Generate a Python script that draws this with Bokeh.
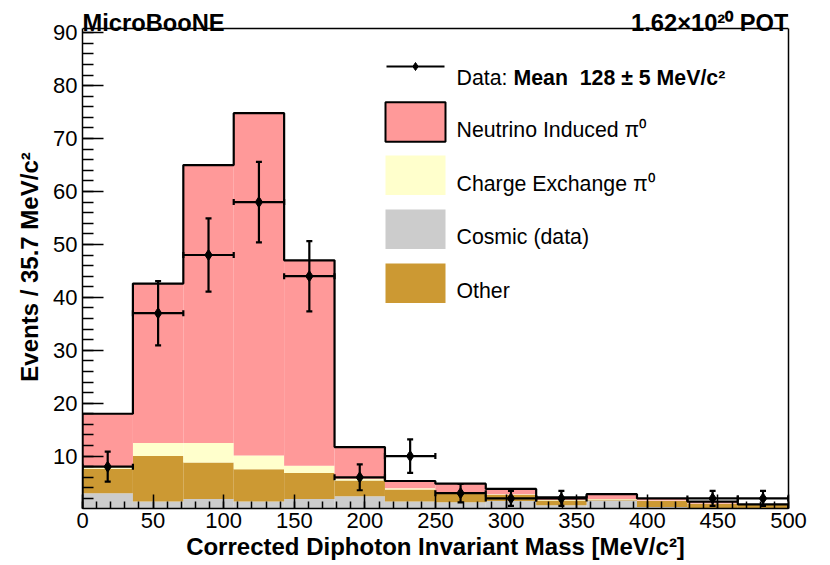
import numpy as np
from bokeh.plotting import figure
from bokeh.models import (Range1d, FixedTicker, Whisker, TeeHead, ColumnDataSource, Label,
                          BoxAnnotation, Span, LinearAxis)
from bokeh.embed import file_html
from bokeh.resources import INLINE

# ---------------- data ----------------
bin_edges = [0.0, 35.7, 71.4, 107.1, 142.8, 178.5, 214.2, 249.9, 285.6, 321.3, 357.0, 392.7, 428.4, 464.1, 499.8]
cosmic    = [3.0, 1.4, 1.9, 1.4, 1.9, 2.4, 1.4, 1.3, 1.5, 0.7, 1.6, 0.4, 0.2, 0.0]
other     = [4.6, 8.6, 6.9, 6.1, 4.9, 3.0, 2.3, 1.7, 1.2, 0.9, 0.2, 1.1, 0.8, 0.85]
cex       = [0.4, 2.5, 3.7, 2.6, 1.4, 0.3, 0.25, 0.1, 0.1, 0.1, 0.1, 0.1, 0.05, 0.0]
neutrino  = [10.0, 30.1, 52.5, 64.7, 38.8, 6.0, 1.35, 1.7, 1.0, 0.5, 0.9, 0.4, 0.35, 0.02]
data      = [8, 37, 48, 58, 44, 6, 10, 3, 2, 2, 0, 0, 2, 2]

x_ticks = [0, 50, 100, 150, 200, 250, 300, 350, 400, 450, 500]
y_ticks = [10, 20, 30, 40, 50, 60, 70, 80, 90]

legend_labels = ["Neutrino Induced \u03c0\u2070", "Charge Exchange \u03c0\u2070", "Cosmic (data)", "Other"]
colors = ["#ff9999", "#ffffcc", "#cccccc", "#cc9933"]

FONT = "Liberation Sans"

# ---------------- layout ----------------
W, H = 830, 565
FL, FR = 82, 788          # box left/right in the picture
BT, BB = 28, 508          # box top/bottom in the picture
X0, X1 = 0.0, 500.0
YB, YT = 0.1, 90.8        # y values at the box bottom / top
PX_PER_Y = (BB - BT) / (YT - YB)
Y1 = YB + BB / PX_PER_Y   # frame reaches the top of the canvas (room for the header texts)

p = figure(width=W, height=H, x_range=Range1d(X0, X1), y_range=Range1d(YB, Y1),
           output_backend="svg", toolbar_location=None, title=None,
           min_border_left=FL, min_border_right=W - FR,
           min_border_top=0, min_border_bottom=H - BB)
p.background_fill_color = "white"
p.border_fill_color = "white"
p.xgrid.visible = False
p.ygrid.visible = False
p.outline_line_color = None

def fx(px):
    """picture x (px) -> data x"""
    return X0 + (px - FL) * (X1 - X0) / (FR - FL)

def fy(py):
    """picture y (px) -> data y"""
    return YB + (BB - py) / PX_PER_Y

# stacked histogram
edges = np.array(bin_edges)
left, right = edges[:-1], edges[1:]
c1 = np.array(cosmic)
c2 = c1 + np.array(other)
c3 = c2 + np.array(cex)
c4 = c3 + np.array(neutrino)
bottoms = [np.zeros_like(c1), c1, c2, c3]
tops = [c1, c2, c3, c4]
fills = [colors[2], colors[3], colors[1], colors[0]]
for b, t, col in zip(bottoms, tops, fills):
    p.quad(left=left, right=right, bottom=b, top=t, fill_color=col, line_color=None)

# outline of total
step_x = np.repeat(edges, 2)
step_y = np.concatenate([[0.0], np.repeat(c4, 2), [0.0]])
p.line(step_x, step_y, line_color="black", line_width=2.2)

# data points
d = np.array(data, dtype=float)
centers = 0.5 * (left + right)
mask = d > 0
err = np.sqrt(d)
src = ColumnDataSource(dict(x=centers[mask], y=d[mask], lo=(d - err)[mask], hi=(d + err)[mask],
                            xl=left[mask], xr=right[mask]))
lw = 2.2
def head():
    return TeeHead(size=6, line_width=lw, line_color="black")
vw = Whisker(base="x", lower="lo", upper="hi", source=src, dimension="height",
             line_color="black", line_width=lw, upper_head=head(), lower_head=head(), level="annotation")
hw = Whisker(base="y", lower="xl", upper="xr", source=src, dimension="width",
             line_color="black", line_width=lw, upper_head=head(), lower_head=head(), level="annotation")
p.add_layout(vw)
p.add_layout(hw)
p.scatter("x", "y", source=src, marker="diamond", size=11, color="black")

# axes
for ax in (p.xaxis[0], p.yaxis[0]):
    ax.axis_line_color = "black"
    ax.axis_line_width = 1.5
    ax.major_tick_line_color = "black"
    ax.minor_tick_line_color = "black"
    ax.major_tick_line_width = 1.5
    ax.minor_tick_line_width = 1.5
    ax.major_tick_out = 0
    ax.minor_tick_out = 0
    ax.major_label_text_font = FONT
    ax.major_label_text_font_size = "22px"
    ax.major_label_text_color = "black"
    ax.axis_label_text_font = FONT
    ax.axis_label_text_font_size = "24px"
    ax.axis_label_text_font_style = "bold"
    ax.axis_label_text_color = "black"
p.xaxis.ticker = FixedTicker(ticks=x_ticks, minor_ticks=list(range(0, 501, 10)))
p.yaxis.ticker = FixedTicker(ticks=y_ticks, minor_ticks=list(range(2, 91, 2)))
p.yaxis.bounds = (YB, YT)
p.xaxis.major_tick_in = 14
p.xaxis.minor_tick_in = 7
p.yaxis.major_tick_in = 21
p.yaxis.minor_tick_in = 11
p.xaxis.major_label_standoff = 4
p.yaxis.major_label_standoff = 5
p.xaxis.axis_label = "Corrected Diphoton Invariant Mass [MeV/c\u00b2]"
p.xaxis.axis_label_standoff = 2

# right and top sides of the box
rax = LinearAxis(bounds=(YB, YT), ticker=FixedTicker(ticks=[]), axis_line_color="black",
                 axis_line_width=1.5, major_tick_line_color=None, minor_tick_line_color=None,
                 major_label_text_font_size="0px")
p.add_layout(rax, "right")
p.add_layout(Span(location=YT, dimension="width", line_color="black", line_width=1.5))

def lab(text, x, y, size="21.3px", style="normal", align="left", baseline="alphabetic",
        angle=0.0, place="center"):
    l = Label(x=x, y=y, text=text, text_font=FONT, text_font_size=size, text_font_style=style,
              text_align=align, text_baseline=baseline, angle=angle, text_color="black")
    p.add_layout(l, place)

# y-axis title, centred on the box like the reference
lab("Events / 35.7 MeV/c\u00b2", fx(29), fy(266.5), size="24px", style="bold", align="center",
    angle=np.pi / 2, place="left")

# header texts
lab("MicroBooNE", fx(82), fy(22.7), size="23.7px", style="bold")
lab("1.62\u00d710\u00b2\u2070 POT", fx(788), fy(22.7), size="23.7px", style="bold", align="right")

# legend
p.line([fx(386), fx(444)], [fy(66), fy(66)], line_color="black", line_width=2)
p.scatter([fx(415)], [fy(66)], marker="diamond", size=8, color="black")
lab("Data:", fx(456), fy(77.7))
lab("Mean\u00a0\u00a0128 \u00b1 5 MeV/c\u00b2", fx(513), fy(77.7), style="bold")

box_tops = [101.7, 155, 209, 263]
baselines = [129.3, 183.3, 236.7, 290.7]
for i, (txt, col) in enumerate(zip(legend_labels, colors)):
    yt = box_tops[i]
    box = BoxAnnotation(left=fx(385), right=fx(445), top=fy(yt), bottom=fy(yt + 39.5),
                        fill_color=col, fill_alpha=1.0,
                        line_color="black" if i == 0 else None, line_width=2, line_alpha=1.0)
    p.add_layout(box)
    lab(txt, fx(456), fy(baselines[i]))

open("out.html", "w").write(file_html(p, INLINE))
